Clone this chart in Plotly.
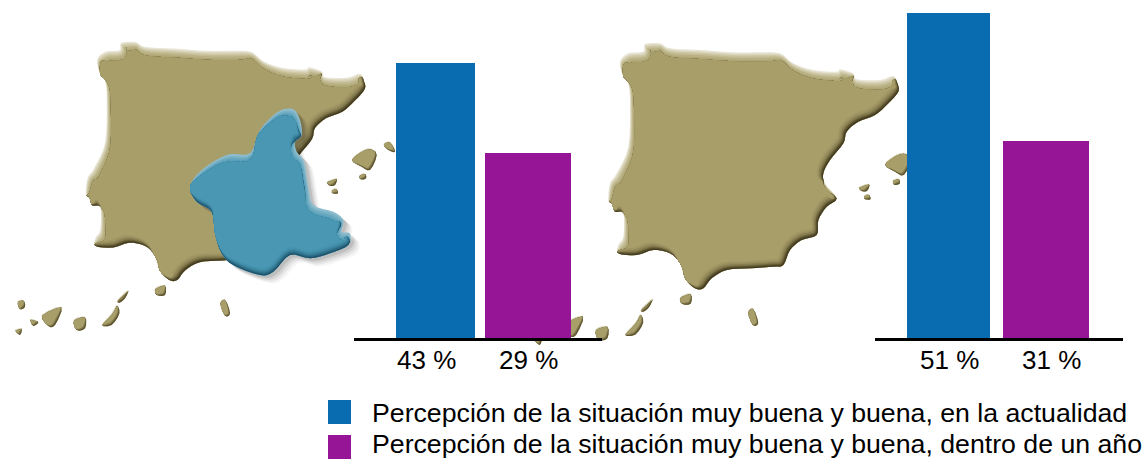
import math
import plotly.graph_objects as go

W, H = 1147, 460

# ---- data ----
SERIES = ["Percepción de la situación muy buena y buena, en la actualidad",
          "Percepción de la situación muy buena y buena, dentro de un año"]
COLORS = ["#0A6CB0", "#951596"]
LEFT_VALUES = [43, 29]
RIGHT_VALUES = [51, 31]
LEFT_LABELS = ["43 %", "29 %"]
RIGHT_LABELS = ["51 %", "31 %"]

# ---- decorative map outlines ----
PENINSULA = [(180,125),(205,100),(250,95),(255,72),(300,70),(330,85),(420,90),(520,97),(600,97),(660,100),
             (700,130),(760,150),(830,155),(840,148),(880,160),(890,178),(960,180),(1000,168),(1012,190),
             (1015,215),(985,250),(945,285),(895,305),(860,335),(850,370),(810,420),(790,460),(795,490),
             (830,535),(800,560),(775,600),(770,645),(725,660),(690,690),(670,735),(640,740),(570,745),
             (500,750),(455,775),(430,805),(405,805),(375,775),(360,730),(330,700),(280,690),(230,705),
             (175,700),(175,675),(190,650),(190,580),(165,575),(155,550),(145,540),(150,490),(170,460),
             (205,380),(210,250),(205,190),(190,170)]
ISLANDS = [[(1055,420),(1080,395),(1110,385),(1130,405),(1110,450),(1085,440)],
           [(1078,465),(1095,460),(1098,475),(1082,478)],
           [(980,485),(1010,475),(1005,495),(990,497)],
           [(995,510),(1008,505),(1014,520),(998,520)],
           [(1150,372),(1170,365),(1185,395),(1165,390)],
           [(465,805),(495,795),(495,825),(470,825)],
           [(660,850),(675,838),(690,880),(675,887)],
           [(352,840),(385,810),(375,835),(358,848)],
           [(305,915),(335,880),(350,855),(358,880),(335,915)],
           [(220,900),(255,890),(255,925),(230,930)],
           [(125,885),(185,860),(165,915),(145,918)],
           [(90,897),(115,905),(100,918)],
           [(52,845),(70,840),(75,860),(60,868)],
           [(45,930),(65,925),(60,945)]]
REGION = [(840,272),(880,268),(900,300),(905,345),(885,365),(890,395),(912,425),(925,500),(940,555),
          (1000,575),(1030,600),(1025,635),(1050,640),(1045,675),(990,700),(930,715),(870,705),(820,755),
          (780,765),(700,735),(665,700),(645,640),(635,575),(590,545),(570,505),(590,465),(640,425),
          (690,403),(750,400),(775,340),(800,305)]

def right_full(p):          # zoom-2 picture to page
    return (p[0]/3 + 560, p[1]/3 + 20)
def left_full(p):           # zoom-1 picture to page
    return (p[0]/3, p[1]/3 + 20)
def right_to_left(p):
    return ((p[0]-519)/1.04, p[1]/1.03)
def left_to_right(p):
    return (p[0]*1.04 + 519, p[1]*1.03)

def smooth(pts, n=4):
    out = []
    m = len(pts)
    for i in range(m):
        p0, p1, p2, p3 = pts[i-1], pts[i], pts[(i+1) % m], pts[(i+2) % m]
        for j in range(n):
            t = j/n
            out.append(tuple(0.5*(2*p1[a] + (p2[a]-p0[a])*t + (2*p0[a]-5*p1[a]+4*p2[a]-p3[a])*t*t
                                  + (3*p1[a]-p0[a]-3*p2[a]+p3[a])*t*t*t) for a in (0, 1)))
    return out

def normals(pts):
    m = len(pts)
    area = sum(pts[i][0]*pts[(i+1) % m][1] - pts[(i+1) % m][0]*pts[i][1] for i in range(m))
    sign = 1 if area > 0 else -1
    res = []
    for i in range(m):
        a, b = pts[i-2], pts[(i+2) % m]
        tx, ty = b[0]-a[0], b[1]-a[1]
        ln = math.hypot(tx, ty) or 1
        res.append((sign*ty/ln, -sign*tx/ln))
    return res

def inset(pts, nrm, d, k):
    res = []
    for (x, y), (nx, ny) in zip(pts, nrm):
        f = k*max(0, nx*d[0] + ny*d[1])
        res.append((x - nx*f, y - ny*f))
    return res

def path(pts):
    q = ["%.5f,%.5f" % (x/W, 1-y/H) for x, y in pts]
    return "M " + " L ".join(q) + " Z"

shapes = []
def add(pts, color, dx=0, dy=0, opacity=1):
    shapes.append(dict(type="path", xref="paper", yref="paper",
                       path=path([(x+dx, y+dy) for x, y in pts]),
                       fillcolor=color, opacity=opacity, line=dict(width=0), layer="below"))

def shade(raw, light, dark, dl, dd, n=4):
    pts = smooth(raw, n)
    nrm = normals(pts)
    for k, c in light:
        add(inset(pts, nrm, dl, k), c)
    base = inset(pts, nrm, dl, light[-1][0])
    for k, c in dark:
        add(inset(base, nrm, dd, k), c)

NW, SE = (-0.4, -0.92), (0.6, 0.8)
SAND_LIGHT = [(0, "#E8E5D6"), (1.5, "#DAD5BC"), (3, "#CEC8A6"), (4.5, "#C3BC94"), (6, "#B9B184"),
              (8, "#B0A776"), (10, "#A89E6A")]
SAND_DARK = [(0, "#3E3720"), (1, "#4F4729"), (2, "#625932"), (3, "#756C42"), (4, "#877D51"),
             (5.5, "#958B5C"), (7, "#A09664"), (9, "#A89E6A")]
ISLE_LIGHT = [(0, "#D6D1B6"), (1.2, "#A89E6A")]
ISLE_DARK = [(0, "#5C5430"), (1.5, "#857B4F"), (3, "#A89E6A")]

def draw_map(peninsula, islands):
    shade(peninsula, SAND_LIGHT, SAND_DARK, NW, SE)
    for isl in islands:
        shade(isl, ISLE_LIGHT, ISLE_DARK, NW, SE, 3)

pen_r = [right_full(p) for p in PENINSULA]
pen_l = [right_to_left(p) for p in pen_r]
isl_l = [[left_full(p) for p in isl] for isl in ISLANDS]
isl_r = [[left_to_right(p) for p in isl] for isl in isl_l]

draw_map(pen_l, isl_l)
draw_map(pen_r, isl_r)

reg = [left_full(p) for p in REGION]
reg_s = smooth(reg, 4)
for d, op in ((9, .04), (7, .06), (5, .08), (3, .10)):
    add(reg_s, "#000000", d, d*0.9, op)
shade(reg, [(0, "#8DBDCE"), (2, "#7CB2C6"), (4, "#68A8BF"), (6, "#58A0BA"), (8, "#4E99B6")],
      [(0, "#1E5066"), (1, "#265F78"), (2, "#2E6E88"), (3, "#357C96"), (4.5, "#3F89A5"), (6, "#4693AF"), (8, "#4A97B4")],
      (0.35, -0.94), (0.25, 0.97))

# ---- legend marks ----
for (x0, y0), col in zip([(328, 400), (328, 435)], COLORS):
    shapes.append(dict(type="rect", xref="paper", yref="paper", x0=x0/W, x1=(x0+23)/W,
                       y0=1-(y0+24)/H, y1=1-y0/H, fillcolor=col, line=dict(width=0), layer="above"))

fig = go.Figure()
WIDTHS_L = [79/92.5, 86/92.5]
WIDTHS_R = [83/97.5, 86/97.5]
fig.add_trace(go.Bar(x=[0, 1], y=LEFT_VALUES, width=WIDTHS_L, marker=dict(color=COLORS, line=dict(width=0)),
                     xaxis="x", yaxis="y", showlegend=False))
fig.add_trace(go.Bar(x=[0, 1], y=RIGHT_VALUES, width=WIDTHS_R, marker=dict(color=COLORS, line=dict(width=0)),
                     xaxis="x2", yaxis="y2", showlegend=False))

def xaxis(p0, p1, c0, step):
    return dict(domain=[p0/W, p1/W], range=[(p0-c0)/step, (p1-c0)/step], showgrid=False, zeroline=False,
                showticklabels=False, ticks="", showline=True, linecolor="#000000", linewidth=3)
def yaxis(anchor, bottom, top, scale):
    return dict(anchor=anchor, domain=[1-bottom/H, 1-top/H], range=[0, (bottom-top)/scale], visible=False)

annotations = []
FONT = "Liberation Sans, Arial, sans-serif"
for txt, cx in zip(LEFT_LABELS + RIGHT_LABELS, [426, 528, 949, 1051]):
    annotations.append(dict(text=txt, xref="paper", yref="paper", x=cx/W, y=1-360/H, xanchor="center",
                            yanchor="middle", showarrow=False, font=dict(family=FONT, size=26, color="#000000")))
for txt, yc in zip(SERIES, [413, 443.5]):
    annotations.append(dict(text=txt, xref="paper", yref="paper", x=370/W, y=1-yc/H, xanchor="left",
                            yanchor="middle", showarrow=False, font=dict(family=FONT, size=26.7, color="#000000")))

fig.update_layout(width=W, height=H, margin=dict(l=0, r=0, t=0, b=0), paper_bgcolor="#FFFFFF",
                  plot_bgcolor="rgba(0,0,0,0)", shapes=shapes, annotations=annotations, bargap=0,
                  xaxis=xaxis(354, 602, 435.5, 92.5), yaxis=yaxis("x", 338, 5, 6.395),
                  xaxis2=xaxis(875, 1123, 948.5, 97.5), yaxis2=yaxis("x2", 340, 5, 6.42))

fig.write_html("out.html", config={"displayModeBar": False}, post_script="document.body.style.margin='0';")
